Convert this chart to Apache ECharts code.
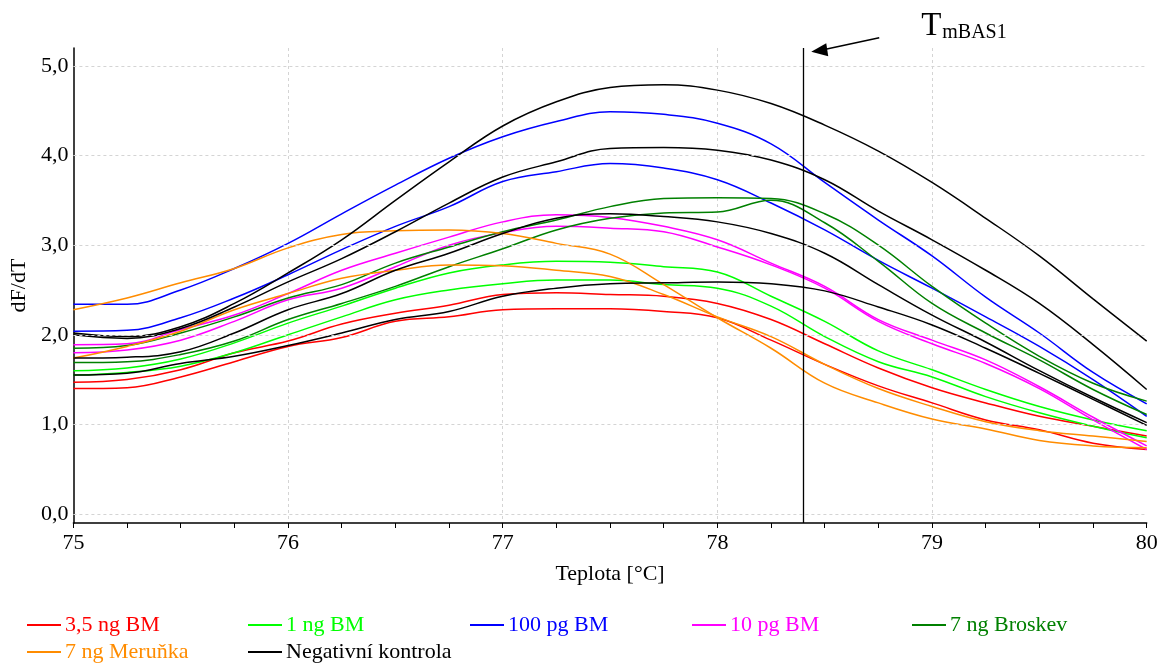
<!DOCTYPE html>
<html>
<head>
<meta charset="utf-8">
<script src="https://cdn.jsdelivr.net/npm/echarts@6/dist/echarts.min.js"></script>
<style>
html,body{margin:0;padding:0;background:#ffffff;}
#chart{width:1161px;height:664px;}
</style>
</head>
<body>
<div id="chart"></div>
<script>
// ---------- data ----------
const TEMPS = [75, 75.25, 75.5, 75.75, 76, 76.25, 76.5, 76.75, 77, 77.25, 77.5, 77.75, 78, 78.25, 78.5, 78.75, 79, 79.25, 79.5, 79.75, 80];

const BM35_1 = [1.47, 1.50, 1.61, 1.80, 1.93, 2.12, 2.24, 2.33, 2.45, 2.47, 2.45, 2.43, 2.35, 2.17, 1.90, 1.63, 1.41, 1.24, 1.09, 0.98, 0.87];
const BM35_2 = [1.40, 1.41, 1.53, 1.70, 1.87, 1.97, 2.15, 2.20, 2.28, 2.29, 2.29, 2.26, 2.19, 1.94, 1.67, 1.43, 1.24, 1.05, 0.94, 0.79, 0.72];

const BM1_1 = [1.60, 1.63, 1.73, 1.91, 2.13, 2.32, 2.52, 2.69, 2.78, 2.82, 2.81, 2.76, 2.70, 2.43, 2.15, 1.82, 1.61, 1.39, 1.20, 1.05, 0.93];
const BM1_2 = [1.55, 1.58, 1.65, 1.80, 2.00, 2.20, 2.39, 2.50, 2.57, 2.61, 2.61, 2.56, 2.52, 2.32, 1.98, 1.70, 1.53, 1.31, 1.13, 0.98, 0.85];

const PG100_1 = [2.34, 2.34, 2.50, 2.74, 3.02, 3.35, 3.67, 3.97, 4.21, 4.38, 4.49, 4.46, 4.36, 4.13, 3.70, 3.28, 2.88, 2.42, 2.02, 1.58, 1.23];
const PG100_2 = [2.04, 2.05, 2.19, 2.41, 2.67, 2.95, 3.21, 3.43, 3.71, 3.82, 3.91, 3.86, 3.73, 3.47, 3.17, 2.83, 2.52, 2.20, 1.87, 1.50, 1.09];

const PG10_1 = [1.89, 1.90, 2.06, 2.22, 2.46, 2.72, 2.91, 3.09, 3.26, 3.34, 3.31, 3.21, 3.06, 2.80, 2.54, 2.17, 1.94, 1.72, 1.42, 1.08, 0.76];
const PG10_2 = [1.80, 1.83, 1.94, 2.15, 2.39, 2.52, 2.76, 3.00, 3.14, 3.21, 3.19, 3.15, 2.98, 2.78, 2.52, 2.15, 1.90, 1.68, 1.40, 1.05, 0.72];

const BROSKEV_1 = [1.85, 1.88, 2.02, 2.20, 2.41, 2.56, 2.80, 2.98, 3.15, 3.28, 3.43, 3.52, 3.53, 3.52, 3.35, 3.00, 2.54, 2.13, 1.76, 1.46, 1.26];
const BROSKEV_2 = [1.69, 1.70, 1.78, 1.93, 2.17, 2.35, 2.54, 2.76, 2.96, 3.17, 3.30, 3.36, 3.37, 3.50, 3.25, 2.82, 2.35, 2.02, 1.72, 1.39, 1.11];

const MERUNKA_1 = [2.28, 2.41, 2.58, 2.74, 2.97, 3.12, 3.16, 3.17, 3.13, 3.02, 2.90, 2.56, 2.19, 1.85, 1.46, 1.24, 1.06, 0.95, 0.82, 0.76, 0.74];
const MERUNKA_2 = [1.74, 1.87, 2.04, 2.28, 2.46, 2.63, 2.72, 2.78, 2.77, 2.72, 2.65, 2.45, 2.20, 1.98, 1.67, 1.40, 1.20, 1.03, 0.93, 0.87, 0.81];

const NEG_1 = [2.02, 1.98, 2.09, 2.35, 2.69, 3.06, 3.50, 3.93, 4.33, 4.60, 4.76, 4.79, 4.73, 4.58, 4.34, 4.05, 3.70, 3.30, 2.88, 2.40, 1.93];
const NEG_2 = [2.00, 1.96, 2.07, 2.31, 2.59, 2.85, 3.15, 3.47, 3.76, 3.93, 4.08, 4.09, 4.06, 3.95, 3.73, 3.38, 3.06, 2.72, 2.35, 1.89, 1.39];
const NEG_3 = [1.74, 1.75, 1.81, 2.02, 2.28, 2.46, 2.72, 2.91, 3.13, 3.30, 3.35, 3.32, 3.26, 3.13, 2.91, 2.56, 2.22, 1.92, 1.60, 1.30, 1.02];
const NEG_4 = [1.55, 1.57, 1.68, 1.76, 1.88, 2.02, 2.17, 2.26, 2.43, 2.52, 2.57, 2.58, 2.59, 2.57, 2.49, 2.31, 2.11, 1.85, 1.57, 1.28, 0.99];

const SERIES_NAMES = ['3,5 ng BM', '1 ng BM', '100 pg BM', '10 pg BM', '7 ng Broskev', '7 ng Meruňka', 'Negativní kontrola'];
const SERIES_CURVES = [[BM35_1, BM35_2], [BM1_1, BM1_2], [PG100_1, PG100_2], [PG10_1, PG10_2], [BROSKEV_1, BROSKEV_2], [MERUNKA_1, MERUNKA_2], [NEG_1, NEG_2, NEG_3, NEG_4]];

const Y_GRID_VALUES = [0, 1, 2, 3, 4, 5];
const TM_VALUE = 78.4;
const TM_LABEL_MAIN = 'T';
const TM_LABEL_SUB = 'mBAS1';
const X_NAME = 'Teplota [°C]';
const Y_NAME = 'dF/dT';

// ---------- styles ----------
const COLORS = ['#ff0000', '#00ff00', '#0000ff', '#ff00ff', '#008000', '#ff8c00', '#000000'];
const LEGEND_LEFT = [27, 248, 470, 692, 912, 27, 248];
const LEGEND_TOP = [614, 614, 614, 614, 614, 641, 641];
const FONT = 'Liberation Serif';

const chart = echarts.init(document.getElementById('chart'), null, {renderer: 'canvas'});

const series = [];
// helper series for horizontal grid lines (drawn beneath the curves)
series.push({
  type: 'line', name: '__grid', data: [], z: 1, silent: true,
  markLine: {
    silent: true, symbol: ['none', 'none'], animation: false,
    label: {show: false},
    lineStyle: {color: '#d4d4d4', type: [3, 3], width: 1},
    emphasis: {disabled: true},
    data: Y_GRID_VALUES.map(v => ({yAxis: v}))
  }
});
SERIES_NAMES.forEach((name, gi) => {
  SERIES_CURVES[gi].forEach(curve => {
    series.push({
      type: 'line', name: name, z: 3,
      data: TEMPS.map((t, i) => [t, curve[i]]),
      smooth: 0.4, showSymbol: false, symbol: 'none',
      lineStyle: {color: COLORS[gi], width: 1.5},
      itemStyle: {color: COLORS[gi]},
      emphasis: {disabled: true},
      animation: false
    });
  });
});
// Tm vertical line
series.push({
  type: 'line', name: '__tm', data: [], z: 5, silent: true,
  markLine: {
    silent: true, symbol: ['none', 'none'], animation: false,
    label: {show: false},
    lineStyle: {color: '#000000', type: 'solid', width: 1.3},
    emphasis: {disabled: true},
    data: [{xAxis: TM_VALUE}]
  }
});

const legends = SERIES_NAMES.map((name, i) => ({
  left: LEGEND_LEFT[i], top: LEGEND_TOP[i], padding: 0,
  orient: 'horizontal', icon: 'rect', itemWidth: 34, itemHeight: 2,
  selectedMode: false,
  textStyle: {fontFamily: FONT, fontSize: 22, lineHeight: 22, color: COLORS[i], padding: [0, 0, 0, -1]},
  data: [{name: name, textStyle: {color: COLORS[i]}}]
}));

const option = {
  backgroundColor: '#ffffff',
  animation: false,
  textStyle: {fontFamily: FONT},
  grid: {left: 73.3, right: 14.3, top: 48, bottom: 141, containLabel: false},
  xAxis: {
    type: 'value', min: 75, max: 80, interval: 1,
    name: X_NAME, nameLocation: 'middle', nameGap: 40,
    nameTextStyle: {fontFamily: FONT, fontSize: 22, color: '#000'},
    axisLine: {show: true, onZero: false, lineStyle: {color: '#000', width: 1.5}},
    axisTick: {show: true, inside: false, length: 5, lineStyle: {color: '#000', width: 1}},
    minorTick: {show: true, splitNumber: 4, length: 5, lineStyle: {color: '#000', width: 1}},
    axisLabel: {fontFamily: FONT, fontSize: 22, color: '#000', margin: 9},
    splitLine: {show: true, showMinLine: false, showMaxLine: false, lineStyle: {color: '#d4d4d4', type: [3, 3], width: 1}}
  },
  yAxis: {
    type: 'value', min: -0.1, max: 5.2, interval: 0.1,
    name: Y_NAME, nameLocation: 'middle', nameGap: 40, nameRotate: 90,
    nameTextStyle: {fontFamily: FONT, fontSize: 22, color: '#000'},
    axisLine: {show: true, onZero: false, lineStyle: {color: '#000', width: 1.5}},
    axisTick: {show: false},
    axisLabel: {
      fontFamily: FONT, fontSize: 22, color: '#000', margin: 5,
      formatter: v => (Math.abs(v - Math.round(v)) < 1e-6 && v >= 0) ? v.toFixed(1).replace('.', ',') : ''
    },
    splitLine: {show: false}
  },
  legend: legends,
  series: series
};
chart.setOption(option);

// annotation: T_mBAS1 with arrow pointing at the Tm line
const tip = chart.convertToPixel({xAxisIndex: 0, yAxisIndex: 0}, [TM_VALUE, 5.2]);
const tx = tip[0] + 8, ty = tip[1] + 3.7;
chart.setOption({
  graphic: [
    {type: 'line', shape: {x1: tx + 68, y1: ty - 14, x2: tx + 12, y2: ty - 2}, style: {stroke: '#000', lineWidth: 1.5}, silent: true},
    {type: 'polygon', shape: {points: [[tx, ty], [tx + 15, ty - 8.5], [tx + 17, ty + 4.5]]}, style: {fill: '#000'}, silent: true},
    {type: 'text', x: tx + 110, y: 26, style: {text: TM_LABEL_MAIN, font: '33px "Liberation Serif"', fill: '#000', textAlign: 'left', textVerticalAlign: 'middle'}, silent: true},
    {type: 'text', x: tx + 131, y: 32.5, style: {text: TM_LABEL_SUB, font: '20px "Liberation Serif"', fill: '#000', textAlign: 'left', textVerticalAlign: 'middle'}, silent: true}
  ]
});
</script>
</body>
</html>
